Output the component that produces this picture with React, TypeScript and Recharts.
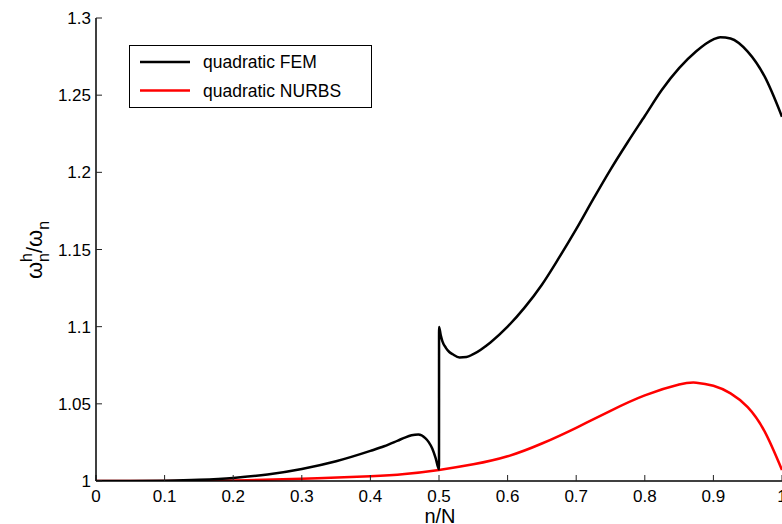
import * as React from "react"
import { LineChart, Line, XAxis, YAxis, Legend } from "recharts"

// quadratic FEM: acoustic branch up to n/N = 0.5, then optical branch
const femX = [
  0, 0.05, 0.1, 0.15, 0.2, 0.25, 0.3, 0.35, 0.4, 0.42, 0.44, 0.45, 0.46, 0.47,
  0.48, 0.485, 0.49, 0.495, 0.5, 0.5001, 0.5025, 0.505, 0.51, 0.515, 0.52, 0.53,
  0.54, 0.55, 0.575, 0.6, 0.625, 0.65, 0.675, 0.7, 0.725, 0.75, 0.775, 0.8, 0.825,
  0.85, 0.875, 0.9, 0.91, 0.925, 0.95, 0.975, 1,
]
const femY = [
  1, 1.0, 1.0002, 1.0008, 1.002, 1.0042, 1.0078, 1.0128, 1.0195, 1.0225, 1.0262,
  1.0281, 1.0296, 1.0301, 1.0278, 1.0252, 1.0212, 1.015, 1.0075, 1.0998, 1.0945,
  1.0905, 1.0863, 1.0836, 1.0821, 1.0801, 1.0803, 1.0822, 1.0898, 1.1, 1.1125, 1.1272,
  1.1447, 1.1632, 1.1828, 1.2018, 1.2195, 1.2365, 1.2535, 1.2675, 1.2785, 1.2862,
  1.2876, 1.2867, 1.2782, 1.2618, 1.236,
]

// quadratic NURBS
const nurbsX = [
  0, 0.1, 0.2, 0.3, 0.4, 0.45, 0.5, 0.55, 0.6, 0.65, 0.7, 0.75, 0.8, 0.85,
  0.875, 0.9, 0.925, 0.95, 0.975, 1,
]
const nurbsY = [
  1, 1.0, 1.0004, 1.0014, 1.003, 1.0045, 1.0072, 1.0108, 1.016, 1.0243, 1.0345,
  1.0455, 1.0555, 1.0625, 1.0637, 1.0617, 1.0568, 1.0478, 1.0318, 1.0071,
]

const xTicks = [0, 0.1, 0.2, 0.3, 0.4, 0.5, 0.6, 0.7, 0.8, 0.9, 1]
const yTicks = [1, 1.05, 1.1, 1.15, 1.2, 1.25, 1.3]

const seriesNames = ["quadratic FEM", "quadratic NURBS"]
const seriesColors = ["#000000", "#ff0000"]

const femData = femX.map((x, i) => ({ x, y: femY[i] }))
const nurbsData = nurbsX.map((x, i) => ({ x, y: nurbsY[i] }))

const FONT = '"Liberation Sans", Arial, Helvetica, sans-serif'
const tickStyle = { fontSize: 17, fill: "#000", fontFamily: FONT }
const axisLineStyle = { stroke: "#000", strokeWidth: 1.5 }
const tickLineStyle = { stroke: "#222", strokeWidth: 1 }

const fmt = (v: number) => String(Number(v.toFixed(2)))

function LegendBox() {
  return (
    <div
      style={{
        width: 243,
        height: 63,
        border: "1.5px solid #000",
        boxSizing: "border-box",
        background: "#fff",
      }}
    >
      <svg width={240} height={60} style={{ display: "block" }}>
        {seriesNames.map((name, i) => (
          <g key={name}>
            <line
              x1={10}
              x2={60}
              y1={16 + i * 28.5}
              y2={16 + i * 28.5}
              stroke={seriesColors[i]}
              strokeWidth={2.5}
            />
            <text x={73} y={22 + i * 28.5} fontSize={17.5} fontFamily={FONT} fill="#000">
              {name}
            </text>
          </g>
        ))}
      </svg>
    </div>
  )
}

export default function App() {
  return (
    <div
      style={{
        position: "absolute",
        left: 0,
        top: 0,
        width: 782,
        height: 524,
        overflow: "hidden",
        background: "#fff",
      }}
    >
      <LineChart
        width={800}
        height={524}
        margin={{ top: 18, right: 18, bottom: 13, left: 36 }}
        style={{ fontFamily: FONT }}
      >
        <XAxis
          dataKey="x"
          type="number"
          domain={[0, 1]}
          ticks={xTicks}
          tickFormatter={fmt}
          allowDataOverflow
          height={30}
          tickSize={-6}
          tickMargin={15}
          axisLine={axisLineStyle}
          tickLine={tickLineStyle}
          tick={tickStyle}
          interval={0}
        />
        <XAxis
          xAxisId="top"
          orientation="top"
          type="number"
          domain={[0, 1]}
          ticks={xTicks}
          height={0}
          tickSize={-6}
          tick={false}
          axisLine={axisLineStyle}
          tickLine={tickLineStyle}
        />
        <YAxis
          type="number"
          domain={[1, 1.3]}
          ticks={yTicks}
          tickFormatter={fmt}
          allowDataOverflow
          width={60}
          tickSize={-6}
          tickMargin={11}
          axisLine={axisLineStyle}
          tickLine={tickLineStyle}
          tick={tickStyle}
          interval={0}
        />
        <YAxis
          yAxisId="right"
          orientation="right"
          type="number"
          domain={[1, 1.3]}
          ticks={yTicks}
          width={0}
          tickSize={-6}
          tick={false}
          axisLine={axisLineStyle}
          tickLine={tickLineStyle}
        />
        <Legend
          layout="vertical"
          align="center"
          verticalAlign="middle"
          wrapperStyle={{ left: 129, top: 45, width: 243, height: 63 }}
          content={() => <LegendBox />}
        />
        <Line
          data={nurbsData}
          dataKey="y"
          name={seriesNames[1]}
          type="natural"
          stroke={seriesColors[1]}
          strokeWidth={2.5}
          dot={false}
          activeDot={false}
          isAnimationActive={false}
        />
        <Line
          data={femData}
          dataKey="y"
          name={seriesNames[0]}
          type="monotone"
          stroke={seriesColors[0]}
          strokeWidth={2.5}
          dot={false}
          activeDot={false}
          isAnimationActive={false}
        />
        <text x={440} y={523} textAnchor="middle" fontSize={20} fontFamily={FONT} fill="#000">
          n/N
        </text>
        <text
          transform="translate(42,250) rotate(-90)"
          textAnchor="middle"
          fontSize={22}
          fontFamily={FONT}
          fill="#000"
        >
          ω
          <tspan fontSize={16} dy={-10}>h</tspan>
          <tspan fontSize={16} dx={-9} dy={17}>n</tspan>
          <tspan dy={-7}>/ω</tspan>
          <tspan fontSize={16} dy={7}>n</tspan>
        </text>
      </LineChart>
    </div>
  )
}
